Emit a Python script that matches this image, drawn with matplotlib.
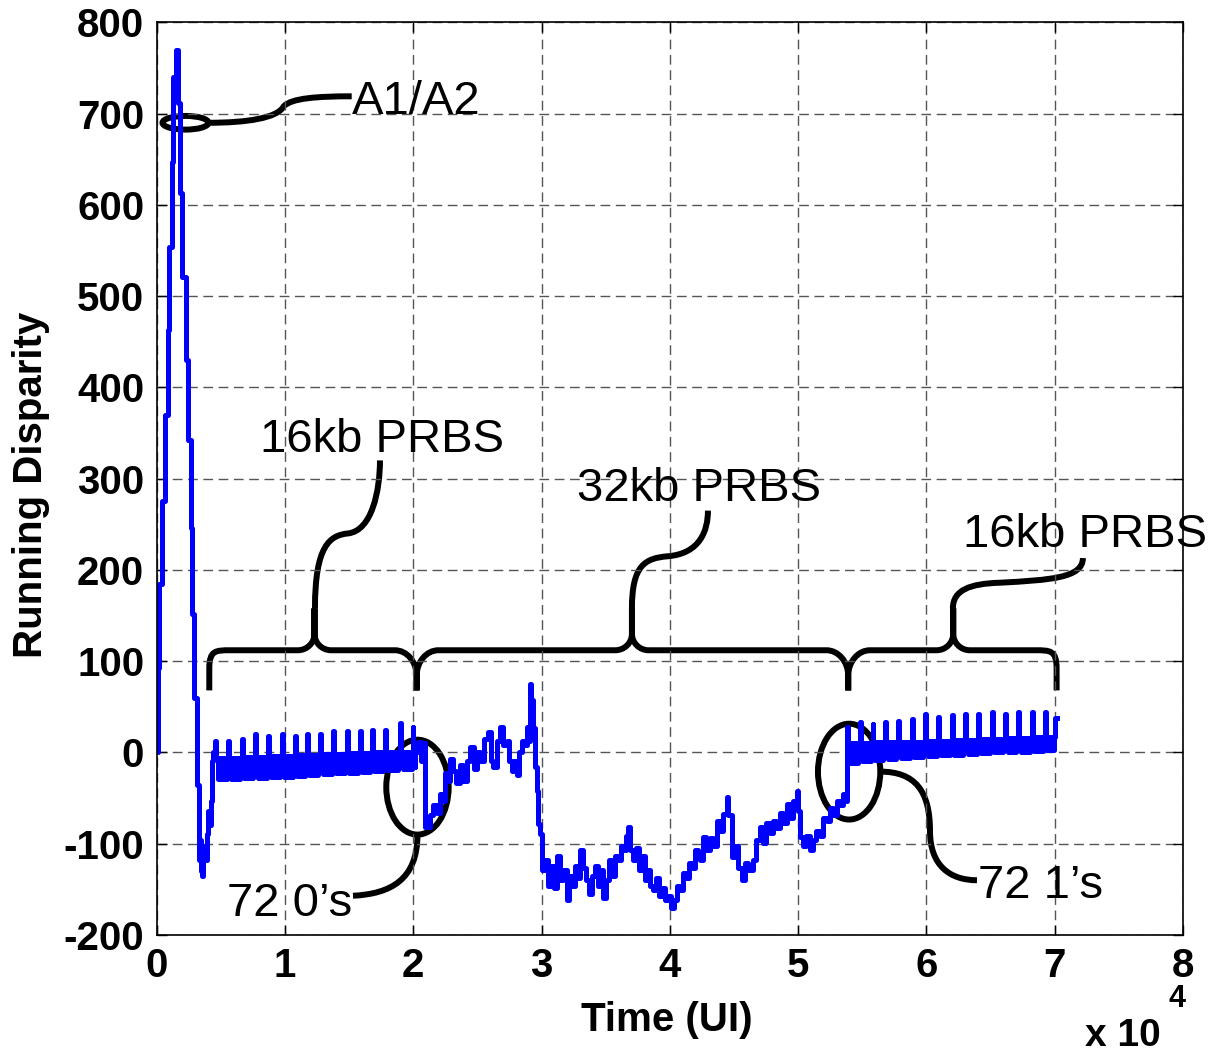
import matplotlib
matplotlib.use('Agg')
import matplotlib.pyplot as plt
from matplotlib.path import Path
from matplotlib.patches import PathPatch, Ellipse

plt.rcParams['font.family'] = ['Liberation Sans', 'DejaVu Sans']
plt.rcParams['axes.unicode_minus'] = False

# start-up burst (A1/A2 framing bytes) and the recovery before the first PRBS block
head_x = [0, 100, 200, 400, 650, 880, 960, 1170, 1270, 1500, 1660, 1820, 1970, 2280, 2440,
          2650, 2730, 2900, 3120, 3300, 3380, 3450, 3510, 3600, 3690, 3800, 3900, 4000,
          4120, 4240, 4320, 4400]
head_y = [0, 93, 185, 276, 370, 463, 554, 647, 740, 770, 712, 613, 521, 430, 342,
          246, 152, 60, -36, -118, -96, -130, -135, -110, -102, -118, -89, -64,
          -80, -53, -9, 0]

# first 16kb PRBS block: one sawtooth per period
t1_x = [4540, 5590, 6630, 7670, 8710, 9750, 10790, 11690, 12730, 13770, 14810, 15840,
        16760, 17800, 18960, 20000]
t1_peak = [13, 13, 15, 20, 18, 20, 18, 20, 20, 23, 23, 23, 25, 25, 32, 28]
t1_hi = [-6, -6, -5, -5, -4, -4, -3, -3, -2, -2, -1, -1, 0, 0, 1, 2]
t1_lo = [-29, -29, -28, -28, -27, -27, -26, -25, -24, -23, -22, -21, -20, -19, -18, -16]

# 72 zeros, then the 32kb PRBS block
mid_x = [20132, 20366, 20600, 20912, 20950, 21300, 21560, 21850, 22080, 22310, 22470, 22700,
         22860, 23100, 23330, 23640, 23870, 24160, 24420, 24730, 24960, 25200, 25510, 25820,
         26050, 26210, 26520, 26760, 27000, 27280, 27460, 27670, 27850, 28060, 28240, 28450,
         28630, 28840, 28940, 29100, 29210, 29330, 29490, 29620, 29720, 29870, 30010,
         30290, 30520, 30760, 30990, 31220, 31460, 31690, 31960, 32140, 32370, 32610, 32840,
         33000, 33230, 33460, 33700, 33930, 34170, 34400, 34630, 34810, 35020, 35250, 35490,
         35720, 35960, 36190, 36430, 36580, 36760, 36900, 37130, 37360, 37600, 37830, 38060,
         38290, 38440, 38680, 38910, 39150, 39380, 39610, 39850, 40080, 40310, 40550, 40780,
         41020, 41250, 41480, 41720, 41950, 42190,
         42340, 42570, 42810, 43120, 43360, 43650, 43900, 44150, 44430, 44530, 44820, 45080,
         45310, 45600, 45850, 46090, 46480, 46710, 47030, 47260, 47490, 47800, 48040, 48270,
         48580, 48820, 49100, 49360, 49590, 49880, 49980, 50140, 50370, 50600, 50920, 51150,
         51390, 51700, 51930, 52220, 52480, 52710, 53000, 53250, 53510, 53720]
mid_y = [0, 11, -9, 10, -82, -69, -58, -66, -45, -53, -23, -31,
         -7, -20, -34, -14, -31, -9, 6, -18, 0, -9, 15, 22,
         -9, -16, 13, 28, 8, 13, -9, -20, -9, -25, 0, 13,
         8, 28, 13, 75, 57, 27, -16, -42, -78, -89, -129,
         -118, -146, -124, -149, -113, -140, -129, -162, -135, -146, -124, -138,
         -107, -127, -140, -155, -135, -124, -146, -129, -159, -140, -118, -135,
         -113, -118, -102, -107, -91, -82, -107, -118, -105, -129, -113, -140,
         -129, -146, -151, -138, -157, -149, -162, -157, -170, -162, -146, -151,
         -132, -138, -121, -127, -107, -113,
         -118, -93, -107, -94, -102, -75, -86, -67, -49, -69, -115, -102,
         -127, -140, -121, -129, -118, -96, -82, -99, -77, -88, -75, -83,
         -66, -77, -56, -72, -53, -42, -64, -93, -102, -91, -107, -96,
         -86, -91, -72, -75, -61, -69, -53, -58, -45, -53]

# 72 ones, then the second 16kb PRBS block
t2_x = [53800, 54800, 55800, 56760, 57800, 58850, 59880, 60920, 61960, 63000, 64040, 65080,
        66120, 67150, 68200, 69230]
t2_peak = [28, 33, 31, 33, 35, 37, 42, 39, 41, 42, 42, 44, 42, 44, 44, 44]
t2_hi = [10, 10, 11, 11, 12, 12, 13, 13, 14, 14, 15, 15, 16, 16, 17, 17]
t2_lo = [-12, -9, -8, -7, -6, -5, -4, -3, -3, -2, -1, 0, 0, 1, 2, 3]
tail_x = [70020, 70146]
tail_y = [38, 38]

# where in each sawtooth period the trace sits at peak / band top / band bottom
SUB = [0.0, 0.07, 0.2, 0.33, 0.47, 0.6, 0.74, 0.87]
PICK = ['peak', 'hi', 'lo', 'hi', 'lo', 'hi', 'lo', 'hi']


def teeth(xs, peak, hi, lo, x_end):
    ox, oy = [], []
    edges = xs + [x_end]
    for i in range(len(xs)):
        p = edges[i + 1] - edges[i]
        lv = {'peak': peak[i], 'hi': hi[i], 'lo': lo[i]}
        for f, k in zip(SUB, PICK):
            ox.append(edges[i] + f * p)
            oy.append(lv[k])
    return ox, oy


a_x, a_y = teeth(t1_x, t1_peak, t1_hi, t1_lo, mid_x[0])
b_x, b_y = teeth(t2_x, t2_peak, t2_hi, t2_lo, tail_x[0])
xs = head_x + a_x + mid_x + b_x + tail_x
ys = head_y + a_y + mid_y + b_y + tail_y

fig = plt.figure(figsize=(12.1, 10.56), dpi=100)
ax = fig.add_axes([0.1295, 0.1146, 0.8482, 0.8642])
ax.plot(xs, ys, color='#0000ff', lw=3.6, drawstyle='steps-post')

ax.set_xlim(0, 80000)
ax.set_ylim(-200, 800)
ax.set_xticks(range(0, 80001, 10000))
ax.set_xticklabels([str(i) for i in range(9)])
ax.set_yticks(range(-200, 801, 100))
ax.grid(True, color='#555555', lw=1.0, linestyle=(0, (7, 4)))
ax.tick_params(direction='in', length=7, width=1, top=True, right=True,
               labelsize=29, pad=9)
for lab in ax.get_xticklabels() + ax.get_yticklabels():
    lab.set_fontweight('bold')
for s in ax.spines.values():
    s.set_linewidth(1.2)

ax.set_xlabel('Time (UI)', fontsize=29, fontweight='bold')
ax.set_ylabel('Running Disparity', fontsize=29, fontweight='bold')
ax.xaxis.set_label_coords(0.497, -0.072)
ax.yaxis.set_label_coords(-0.104, 0.493)
fig.text(0.897, 0.009, 'x 10', fontsize=28, fontweight='bold')
fig.text(0.966, 0.046, '4', fontsize=22, fontweight='bold')

# annotations (data units)
K = dict(color='black', lw=4.3, fill=False, clip_on=False, capstyle='butt')
M, L, C = Path.MOVETO, Path.LINETO, Path.CURVE4


def curve(pts):
    codes = [M] + [C] * (len(pts) - 1)
    ax.add_patch(PathPatch(Path(pts, codes), **K))


ax.add_patch(Ellipse((2245, 690), 3585, 15, **K))
curve([(4037, 690), (7000, 690), (9400, 695), (9900, 708),
       (10500, 717), (12500, 719), (15200, 719)])
ax.text(15250, 700, 'A1/A2', fontsize=34, va='baseline')

# the brace over the three blocks
base, tip, foot = 112, 158, 68
xl, xr = 4100, 70146
pointers = [12300, 37045, 62087]
cusps = [20264, 53903]
v = [(xl, foot), (xl, 92), (xl, 112), (xl + 500, base), (xl + 1640, base)]
c = [M, L, C, C, C]
for xf in sorted(pointers + cusps):
    if xf in pointers:
        r, h = 1300, 18
        v += [(xf - r, base), (xf - 0.45 * r, base), (xf, base + 0.45 * h), (xf, base + h),
              (xf, tip), (xf, base + h), (xf, base + 0.45 * h), (xf + 0.45 * r, base),
              (xf + r, base)]
    else:
        r, h = 1700, 28
        v += [(xf - r, base), (xf - 0.45 * r, base), (xf, base - 0.45 * h), (xf, base - h),
              (xf, foot), (xf, base - h), (xf, base - 0.45 * h), (xf + 0.45 * r, base),
              (xf + r, base)]
    c += [L, C, C, C, L, L, C, C, C]
v += [(xr - 1640, base), (xr - 500, base), (xr, 112), (xr, 92), (xr, foot)]
c += [L, C, C, C, L]
ax.add_patch(PathPatch(Path(v, c), **K))

curve([(12338, 158), (12338, 227), (13507, 238), (14910, 240),
       (16781, 243), (17404, 287), (17404, 320)])
ax.text(8050, 329, '16kb PRBS', fontsize=34, va='baseline')
curve([(37045, 158), (37045, 205), (38058, 213), (39852, 215),
       (42346, 218), (42969, 243), (42969, 265)])
ax.text(32758, 276, '32kb PRBS', fontsize=34, va='baseline')
curve([(62064, 158), (62064, 178), (63389, 185), (65727, 186),
       (69624, 189), (72196, 191), (72196, 213)])
ax.text(62844, 225, '16kb PRBS', fontsize=34, va='baseline', clip_on=False)

ax.add_patch(Ellipse((20327, -38), 4863, 104, **K))
curve([(20327, -90), (20327, -140), (18177, -155), (15300, -157)])
ax.text(15230, -179, '72 0\u2019s', fontsize=34, va='baseline', ha='right')

ax.add_patch(Ellipse((53973, -21), 4856, 105, **K))
curve([(56400, -21), (59108, -21), (60277, -42), (60277, -86),
       (60277, -124), (61836, -140), (63940, -140)])
ax.text(64018, -159, '72 1\u2019s', fontsize=34, va='baseline')

fig.savefig('out.png', dpi=100)
